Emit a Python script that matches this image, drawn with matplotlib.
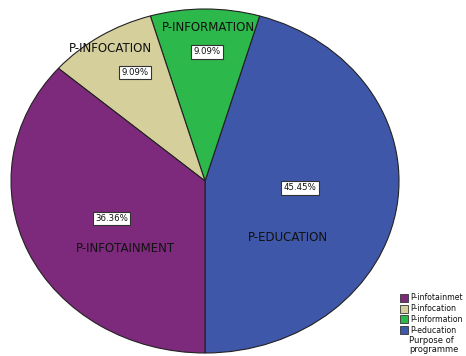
import matplotlib
matplotlib.use("Agg")
import matplotlib.pyplot as plt
from matplotlib.patches import Rectangle

# Purpose of programme (counts and shares)
categories = ["P-EDUCATION", "P-INFORMATION", "P-INFOCATION", "P-INFOTAINMENT"]
legend_labels = ["P-education", "P-information", "P-infocation", "P-infotainmet"]
counts = [5, 1, 1, 4]
percent_labels = ["45.45%", "9.09%", "9.09%", "36.36%"]
colors = ["#3F57A8", "#2DB84B", "#D5CF9C", "#7E2A7C"]

W, H = 466, 356
fig = plt.figure(figsize=(W / 100, H / 100), dpi=100)

# Elliptical pie area in pixel coordinates
cx, cy, rx, ry = 205, 181, 194, 172
ax = fig.add_axes([(cx - rx) / W, (H - cy - ry) / H, 2 * rx / W, 2 * ry / H])

wedges, _ = ax.pie(counts, colors=colors, startangle=270, counterclock=True,
                   wedgeprops=dict(edgecolor="#222222", linewidth=0.8))
ax.set_aspect("auto")
ax.set_xlim(-1, 1)
ax.set_ylim(-1, 1)
ax.axis("off")

# Category names and percentage boxes (axes data coords)
name_pos = [(0.43, -0.33), (0.02, 0.89), (-0.49, 0.77), (-0.41, -0.39)]
pct_pos = [(0.49, -0.04), (0.01, 0.75), (-0.36, 0.63), (-0.48, -0.22)]
for name, (x, y) in zip(categories, name_pos):
    ax.text(x, y, name, ha="center", va="center", fontsize=8.5,
            family="DejaVu Sans", color="#111111")
for pct, (x, y) in zip(percent_labels, pct_pos):
    ax.text(x, y, pct, ha="center", va="center", fontsize=6.2, color="#111111",
            bbox=dict(boxstyle="square,pad=0.25", facecolor="white",
                      edgecolor="#333333", linewidth=0.8))

# Legend at the lower right
lx, ly0, dy = 404, 298, 10.7
order = [3, 2, 1, 0]
for i, k in enumerate(order):
    y = ly0 + i * dy
    fig.patches.append(Rectangle(((lx - 4) / W, 1 - (y + 4) / H), 8 / W, 8 / H,
                                 transform=fig.transFigure, facecolor=colors[k],
                                 edgecolor="#333333", linewidth=0.6))
    fig.text((lx + 6) / W, 1 - y / H, legend_labels[k], ha="left", va="center",
             fontsize=5.6, color="#111111")
fig.text(409 / W, 1 - 345 / H, "Purpose of\nprogramme", ha="left", va="center",
         fontsize=6.0, color="#111111", linespacing=1.0)

fig.savefig("out.png", dpi=100)
